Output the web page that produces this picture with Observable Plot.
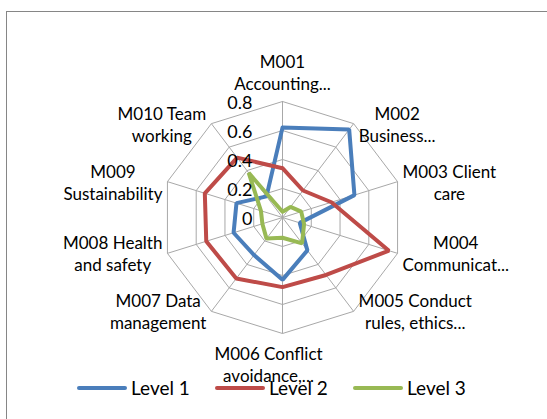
<!DOCTYPE html>
<html><head><meta charset="utf-8">
<script src="https://cdn.jsdelivr.net/npm/d3@7"></script>
<script src="https://cdn.jsdelivr.net/npm/@observablehq/plot@0.6"></script>
<style>
html,body{margin:0;padding:0;background:#fff;overflow:hidden;width:547px;height:419px}
#wrap{position:relative;width:547px;height:419px;overflow:hidden;font-family:Lato,"Open Sans",sans-serif}
#frame{position:absolute;left:6px;top:11px;width:700px;height:600px;border:1px solid #868686;box-sizing:border-box}
#chart{position:absolute;left:0;top:0}
#legend{position:absolute;left:77px;top:376px;display:flex;font-size:19px;line-height:24px;color:#000}
.item{display:flex;align-items:center;width:138px}
.sw{width:50px;height:4px;border-radius:2px;margin-right:4px}
</style></head><body>
<div id="wrap"><div id="frame"></div><div id="chart"></div><div id="legend"></div></div>
<script>
const categories = [
  "M001\nAccounting...",
  "M002\nBusiness...",
  "M003 Client\ncare",
  "M004\nCommunicat...",
  "M005 Conduct\nrules, ethics...",
  "M006 Conflict\navoidance,...",
  "M007 Data\nmanagement",
  "M008 Health\nand safety",
  "M009\nSustainability",
  "M010 Team\nworking"
];
const level1 = [0.62, 0.75, 0.50, 0.12, 0.28, 0.43, 0.32, 0.34, 0.32, 0.18];
const level2 = [0.34, 0.23, 0.34, 0.74, 0.49, 0.48, 0.52, 0.53, 0.54, 0.51];
const level3 = [0.04, 0.09, 0.13, 0.15, 0.22, 0.14, 0.18, 0.14, 0.15, 0.38];
const seriesNames = ["Level 1", "Level 2", "Level 3"];
const seriesColors = ["#4A7EBB", "#BE4B48", "#98B954"];
const tickValues = [0, 0.2, 0.4, 0.6, 0.8];
const tickLabels = ["0", "0.2", "0.4", "0.6", "0.8"];

// layout
const W = 547, H = 419;
const cx = 282, cy = 217, rx = 121, ry = 116;
const vmax = 0.8;
const n = categories.length;
const ang = i => i * 2 * Math.PI / n;
const xs = d3.scaleLinear([-vmax, vmax], [cx - rx, cx + rx]);
const ys = d3.scaleLinear([-vmax, vmax], [cy + ry, cy - ry]);
const px = (v, i) => v * Math.sin(ang(i));
const py = (v, i) => v * Math.cos(ang(i));

// rings
const rings = [];
tickValues.filter(t => t > 0).forEach(t => {
  for (let i = 0; i <= n; i++) rings.push({t, x: px(t, i % n), y: py(t, i % n)});
});
// spokes
const spokes = categories.map((c, i) => ({x2: px(vmax, i), y2: py(vmax, i)}));
// series
const allSeries = [level1, level2, level3];
const rows = [];
allSeries.forEach((vals, s) => {
  for (let i = 0; i <= n; i++) rows.push({series: seriesNames[s], x: px(vals[i % n], i % n), y: py(vals[i % n], i % n)});
});
// category labels
const fs = 17, lh = 22;
const ctx = document.createElement("canvas").getContext("2d");
ctx.font = fs + "px Lato";
const labelRows = categories.map((c, i) => {
  const s = Math.sin(ang(i)), co = Math.cos(ang(i));
  const vx = xs(px(vmax, i)), vy = ys(py(vmax, i));
  const lines = c.split("\n");
  const hw = d3.max(lines, l => ctx.measureText(l).width) / 2;
  const hh = lines.length * lh / 2;
  let lx, ly;
  if (Math.abs(s) < 0.1) { lx = vx - (co < 0 ? 14 : 0); ly = vy - Math.sign(co) * (hh + 8); }
  else { lx = vx + Math.sign(s) * (hw + 5); ly = vy; }
  return {text: c, x: xs.invert(lx), y: ys.invert(ly)};
});

const chart = Plot.plot({
  width: W, height: H, margin: 0,
  style: {fontFamily: "Lato, 'Open Sans', sans-serif", background: "transparent", overflow: "visible"},
  x: {domain: xs.domain(), range: xs.range(), axis: null},
  y: {domain: ys.domain(), range: ys.range(), axis: null},
  color: {domain: seriesNames, range: seriesColors},
  marks: [
    Plot.line(rings, {x: "x", y: "y", z: "t", stroke: "#a8a8a8", strokeWidth: 1}),
    Plot.link(spokes, {x1: () => 0, y1: () => 0, x2: "x2", y2: "y2", stroke: "#a8a8a8", strokeWidth: 1}),
    Plot.line(rows, {x: "x", y: "y", z: "series", stroke: "series", strokeWidth: 4, strokeLinejoin: "miter", curve: "linear"}),
    Plot.text(tickValues, {x: () => 0, y: d => d, text: (d, i) => tickLabels[i], textAnchor: "end", lineAnchor: "middle", dx: -30, dy: 2, fontSize: 18, fill: "#000"}),
    Plot.text(labelRows, {x: "x", y: "y", text: "text", textAnchor: "middle", lineAnchor: "middle", lineHeight: lh / fs, fontSize: fs, fill: "#000"})
  ]
});
document.getElementById("chart").appendChild(chart);

const legend = document.getElementById("legend");
seriesNames.forEach((name, i) => {
  const it = document.createElement("div");
  it.className = "item";
  const sw = document.createElement("span");
  sw.className = "sw";
  sw.style.background = seriesColors[i];
  const tx = document.createElement("span");
  tx.textContent = name;
  it.appendChild(sw); it.appendChild(tx);
  legend.appendChild(it);
});
</script>
</body></html>
